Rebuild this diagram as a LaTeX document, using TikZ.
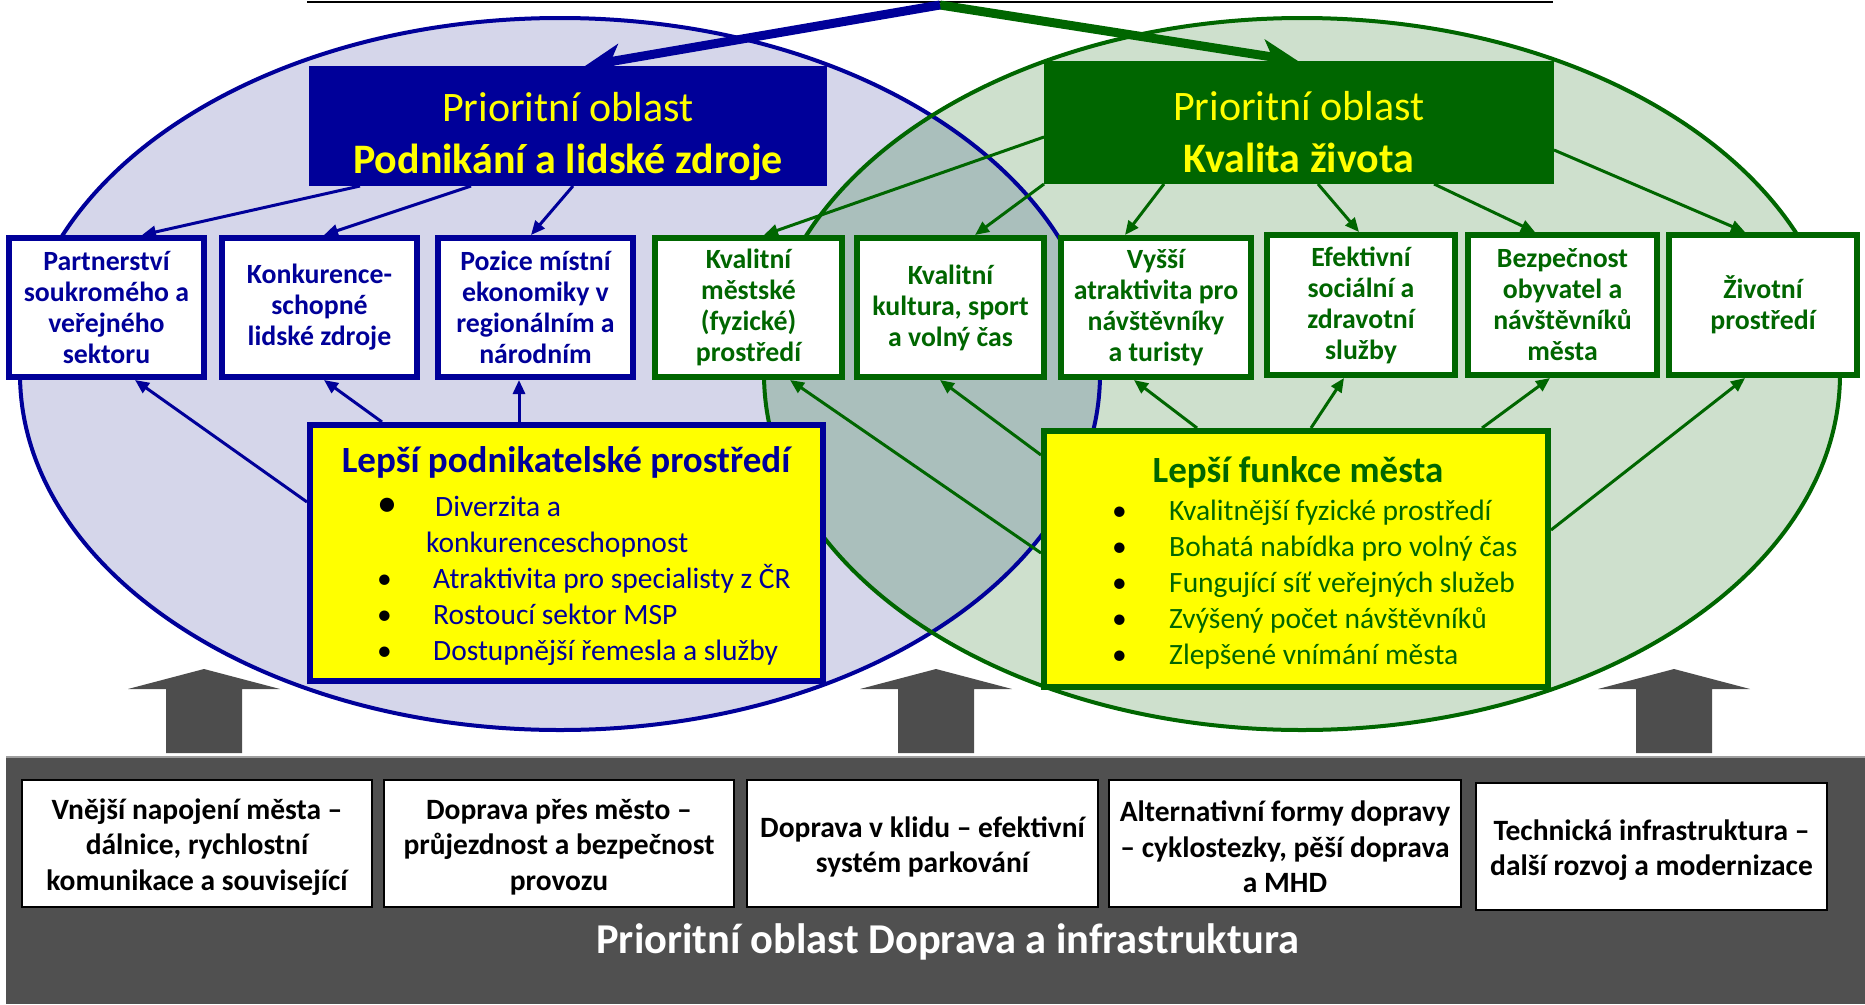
\documentclass[tikz,border=0pt]{standalone}
\usepackage{fontspec}
\setmainfont{Carlito}
\usetikzlibrary{arrows.meta,calc}
\definecolor{dblue}{HTML}{000099}
\definecolor{dgreen}{HTML}{006600}
\definecolor{ellblue}{HTML}{D5D6EA}
\definecolor{ellgreen}{HTML}{CEE0CD}
\definecolor{ovl}{HTML}{AABFBC}
\definecolor{arrgray}{HTML}{4D4D4D}
\definecolor{bargray}{HTML}{505050}
\definecolor{ylw}{HTML}{FFFF00}
\newcommand{\blt}[1][29.5]{\makebox[56pt][l]{\color{black}\fontsize{#1}{36}\selectfont •}}
\begin{document}
\begin{tikzpicture}[x=1pt,y=-1pt,
  tbox/.style={draw, line width=6pt, fill=white, inner sep=0pt, align=center,
    font=\fontsize{27.8}{31}\selectfont\bfseries},
  bbox/.style={tbox, draw=dblue, text=dblue},
  gbox/.style={tbox, draw=dgreen, text=dgreen},
  titlebox/.style={draw=none, inner sep=0pt, outer sep=0pt},
  titletext/.style={inner sep=0pt, align=center, text=ylw, font=\fontsize{42}{52}\selectfont},
  ybox/.style={draw, line width=6pt, fill=ylw, inner sep=0pt},
  bottombox/.style={draw=black, line width=2pt, fill=white, inner sep=0pt},
  bottomtext/.style={inner sep=0pt, align=center, font=\fontsize{29.5}{35.5}\selectfont\bfseries},
  conn/.style={line width=3pt, -{Triangle[length=14,width=12]}},
  bigarrow/.style={line width=9pt, -{Stealth[length=36,width=32,inset=10]}},
  listtext/.style={anchor=base west, inner sep=0pt, font=\fontsize{29.5}{36}\selectfont},
  ytitle/.style={anchor=base, inner sep=0pt, font=\fontsize{37}{44}\selectfont\bfseries}
]
\useasboundingbox (0,0) rectangle (1865,1004);

% ellipses
\fill[ellblue] (560,374) ellipse [x radius=540, y radius=356];
\fill[ellgreen] (1302,374) ellipse [x radius=538, y radius=356];
\begin{scope}
  \clip (560,374) ellipse [x radius=540, y radius=356];
  \fill[ovl] (1302,374) ellipse [x radius=538, y radius=356];
\end{scope}
\draw[dblue, line width=4pt] (560,374) ellipse [x radius=540, y radius=356];
\draw[dgreen, line width=4pt] (1302,374) ellipse [x radius=538, y radius=356];

% top line and apex
\coordinate (tl) at (307,1.5);
\coordinate (tr) at (1553,1.5);
\coordinate (apex) at (940,5);
\draw[black, line width=2pt] (tl) -- (tr);

% title boxes
\node[titlebox, fill=dblue, minimum width=518, minimum height=120] (TB) at (568,126) {};
\node[titletext] (TBt) at (568,136.5) {Prioritní oblast\\\textbf{Podnikání a lidské zdroje}};
\node[titlebox, fill=dgreen, minimum width=510, minimum height=123] (TG) at (1299,122.5) {};
\node[titletext] (TGt) at (1299,132) {Prioritní oblast\\\textbf{Kvalita života}};

\draw[dgreen, bigarrow] (apex) -- ($(TG.north)+(-1,0)$);
\draw[dblue, bigarrow] (apex) -- ($(TB.north)+(17,0)$);

% top row boxes
\node[bbox, minimum width=195, minimum height=139] (B1) at (106.5,307.5) {Partnerství\\soukromého a\\veřejného\\sektoru};
\node[bbox, minimum width=195, minimum height=139] (B2) at (319.5,307.5) {Konkurence-\\schopné\\lidské zdroje};
\node[bbox, minimum width=195, minimum height=139] (B3) at (535.5,307.5) {Pozice místní\\ekonomiky v\\regionálním a\\národním};
\node[gbox, minimum width=187, minimum height=139] (B4) at (748.5,307.5) {Kvalitní\\městské\\(fyzické)\\prostředí};
\node[gbox, minimum width=187, minimum height=139] (B5) at (950.5,307.5) {Kvalitní\\kultura, sport\\a volný čas};
\node[gbox, minimum width=190, minimum height=139] (B6) at (1156,307.5) {Vyšší\\atraktivita pro\\návštěvníky\\a turisty};
\node[gbox, minimum width=188, minimum height=140] (B7) at (1361,305) {Efektivní\\sociální a\\zdravotní\\služby};
\node[gbox, minimum width=189, minimum height=140] (B8) at (1562.5,305) {Bezpečnost\\obyvatel a\\návštěvníků\\města};
\node[gbox, minimum width=188, minimum height=140] (B9) at (1763,305) {Životní\\prostředí};

% yellow boxes
\node[ybox, draw=dblue, minimum width=513, minimum height=256] (YB) at (566.5,553) {};
\node[ytitle, text=dblue] (YBt) at (566,472) {Lepší podnikatelské prostředí};
\node[listtext, text=dblue] (YBl) at (377,516) {\begin{tabular}[t]{@{}l@{}}
\blt[40]\hspace*{2pt}Diverzita a\\
\hspace*{49pt}konkurenceschopnost\\
\blt Atraktivita pro specialisty z ČR\\
\blt Rostoucí sektor MSP\\
\blt Dostupnější řemesla a služby
\end{tabular}};

\node[ybox, draw=dgreen, minimum width=504, minimum height=256] (YG) at (1296,559) {};
\node[ytitle, text=dgreen] (YGt) at (1298,482) {Lepší funkce města};
\node[listtext, text=dgreen] (YGl) at (1112,520) {\begin{tabular}[t]{@{}l@{}}
\blt\hspace*{1pt}Kvalitnější fyzické prostředí\\
\blt\hspace*{1pt}Bohatá nabídka pro volný čas\\
\blt\hspace*{1pt}Fungující síť veřejných služeb\\
\blt\hspace*{1pt}Zvýšený počet návštěvníků\\
\blt\hspace*{1pt}Zlepšené vnímání města
\end{tabular}};

% connectors from title boxes
\draw[conn, dblue] ($(TB.south)+(-208,0)$) -- ($(B1.north)+(35.5,0)$);
\draw[conn, dblue] ($(TB.south)+(-97,0)$) -- ($(B2.north)+(4.5,0)$);
\draw[conn, dblue] ($(TB.south)+(5,0)$) -- ($(B3.north)+(-4.5,0)$);
\draw[conn, dgreen] ($(TG.west)+(0,14.5)$) -- ($(B4.north)+(15.5,0)$);
\draw[conn, dgreen] (TG.south west) -- ($(B5.north)+(24.5,0)$);
\draw[conn, dgreen] ($(TG.south)+(-135,0)$) -- ($(B6.north)+(-31,0)$);
\draw[conn, dgreen] ($(TG.south)+(19,0)$) -- ($(B7.north)+(-2,0)$);
\draw[conn, dgreen] ($(TG.south)+(135,0)$) -- ($(B8.north)+(-27.5,0)$);
\draw[conn, dgreen] ($(TG.east)+(0,27.5)$) -- ($(B9.north)+(-18,0)$);

% connectors from yellow boxes
\draw[conn, dblue] ($(YB.west)+(0,-51)$) -- ($(B1.south)+(28.5,0)$);
\draw[conn, dblue] ($(YB.north)+(-184.5,0)$) -- ($(B2.south)+(4.5,0)$);
\draw[conn, dblue] ($(YB.north)+(-47.5,0)$) -- ($(B3.south)+(-16.5,0)$);
\draw[conn, dgreen] ($(YG.west)+(0,-6)$) -- ($(B4.south)+(41.5,0)$);
\draw[conn, dgreen] ($(YG.west)+(0,-104)$) -- ($(B5.south)+(-10.5,0)$);
\draw[conn, dgreen] ($(YG.north)+(-99,0)$) -- ($(B6.south)+(-22,0)$);
\draw[conn, dgreen] ($(YG.north)+(15,0)$) -- ($(B7.south)+(-17,0)$);
\draw[conn, dgreen] ($(YG.north)+(186,0)$) -- ($(B8.south)+(-12.5,0)$);
\draw[conn, dgreen] ($(YG.east)+(0,-29)$) -- ($(B9.south)+(-18,0)$);

% gray block arrows
\foreach \cx in {204,936,1674}{
  \fill[arrgray] (\cx,669) -- ({\cx+76},689) -- ({\cx+38},689) -- ({\cx+38},753)
    -- ({\cx-38},753) -- ({\cx-38},689) -- ({\cx-76},689) -- cycle;
}

% bottom bar
\node[fill=bargray, minimum width=1859, minimum height=247, inner sep=0pt, outer sep=0pt] (bar) at (935.5,880.5) {};
\draw[gray!75, line width=2pt] (bar.north west) -- (bar.north east);
\node[bottombox, minimum width=350, minimum height=127] (BB1) at (197,843.5) {};
\node[bottomtext] (BB1t) at ($(BB1.center)+(0,3.5)$) {Vnější napojení města –\\dálnice, rychlostní\\komunikace a související};
\node[bottombox, minimum width=350, minimum height=127] (BB2) at (559,843.5) {};
\node[bottomtext] (BB2t) at ($(BB2.center)+(0,3.5)$) {Doprava přes město –\\průjezdnost a bezpečnost\\provozu};
\node[bottombox, minimum width=351, minimum height=127] (BB3) at (922.5,843.5) {};
\node[bottomtext] (BB3t) at ($(BB3.center)+(0,3.5)$) {Doprava v klidu – efektivní\\systém parkování};
\node[bottombox, minimum width=352, minimum height=127] (BB4) at (1285,843.5) {};
\node[bottomtext] (BB4t) at ($(BB4.center)+(0,3.5)$) {Alternativní formy dopravy\\– cyklostezky, pěší doprava\\a MHD};
\node[bottombox, minimum width=351, minimum height=127] (BB5) at (1651.5,846.5) {};
\node[bottomtext] (BB5t) at ($(BB5.center)+(0,3.5)$) {Technická infrastruktura –\\další rozvoj a modernizace};
\node[anchor=base, inner sep=0pt, text=white, font=\fontsize{42.5}{50}\selectfont\bfseries] (BT) at (948,953) {Prioritní oblast Doprava a infrastruktura};
\end{tikzpicture}
\end{document}
